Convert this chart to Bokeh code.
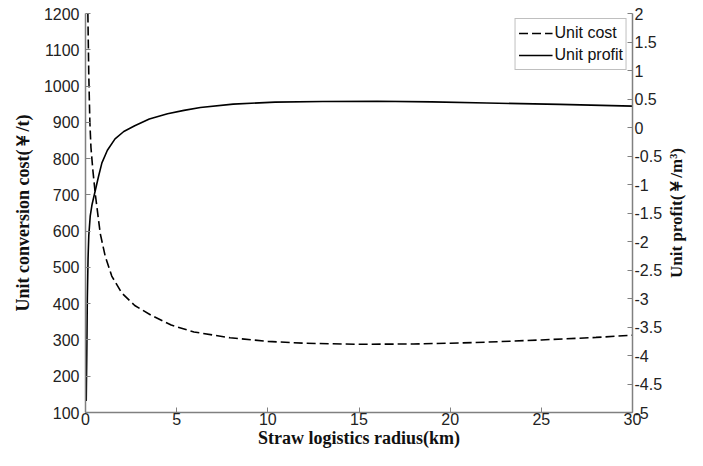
import math
from bokeh.plotting import figure
from bokeh.models import Range1d, LinearAxis, FixedTicker, Legend, LegendItem, Label
from bokeh.embed import file_html
from bokeh.resources import INLINE

# ---- data ----
x_cost = [0.13, 0.18, 0.24, 0.3, 0.4, 0.54, 0.81, 1.08, 1.44, 1.98, 2.7, 3.6, 4.7, 5.95, 7.93,
          10, 12, 15, 18, 20, 22, 25, 28, 30]
unit_cost = [1200, 1030, 900, 830, 770, 701, 593, 531, 476, 430, 395, 368, 341, 322, 306,
             296, 291, 288, 289, 291, 294, 300, 307, 313]

x_profit = [0.04, 0.07, 0.1, 0.14, 0.18, 0.26, 0.36, 0.54, 0.72, 0.9, 1.2, 1.62, 2.1, 2.7, 3.5,
            4.5, 5.4, 6.3, 8.1, 10.4, 13, 16, 19, 22, 26, 30]
unit_profit = [-4.8, -4.0, -3.0, -2.3, -1.9, -1.55, -1.35, -1.1, -0.85, -0.62, -0.40, -0.20, -0.07,
               0.03, 0.15, 0.24, 0.30, 0.35, 0.41, 0.445, 0.455, 0.46, 0.45, 0.43, 0.405, 0.375]

x_ticks = [0, 5, 10, 15, 20, 25, 30]
left_ticks = [100, 200, 300, 400, 500, 600, 700, 800, 900, 1000, 1100, 1200]
right_ticks = [-5, -4.5, -4, -3.5, -3, -2.5, -2, -1.5, -1, -0.5, 0, 0.5, 1, 1.5, 2]
right_tick_labels = ["-5", "-4.5", "-4", "-3.5", "-3", "-2.5", "-2", "-1.5", "-1", "-0.5",
                     "0", "0.5", "1", "1.5", "2"]

x_label = "Straw logistics radius(km)"
left_label = "Unit conversion cost(\uffe5/t)"
right_label = "Unit profit(\uffe5/m\u00b3)"

TICK_FONT = "Liberation Sans"
LABEL_FONT = "Liberation Serif"
AX_COLOR = "#808080"

W, H = 687, 450
BL, BR, BT, BB = 85, 55, 13, 30

p = figure(width=W, height=H, output_backend="svg", toolbar_location=None,
           x_range=Range1d(0, 30), y_range=Range1d(100, 1200),
           min_border_left=BL, min_border_right=BR, min_border_top=BT, min_border_bottom=BB)
p.outline_line_color = None
p.xgrid.visible = False
p.ygrid.visible = False
p.background_fill_color = "white"
p.border_fill_color = "white"

p.extra_y_ranges = {"profit": Range1d(-5, 2)}

def style(ax):
    ax.axis_line_color = AX_COLOR
    ax.axis_line_width = 1.5
    ax.major_tick_line_color = AX_COLOR
    ax.major_tick_in = 5
    ax.major_tick_out = 0
    ax.minor_tick_line_color = None
    ax.major_label_text_font = TICK_FONT
    ax.major_label_text_font_size = "16px"
    ax.major_label_text_color = "#222222"
    ax.axis_label_text_font = LABEL_FONT
    ax.axis_label_text_font_style = "bold"
    ax.axis_label_text_font_size = "18px"
    ax.axis_label_text_color = "#111111"

xa = p.xaxis[0]
xa.ticker = FixedTicker(ticks=x_ticks)
xa.axis_label = x_label
style(xa)
xa.major_label_standoff = 0
xa.axis_label_standoff = 0

ya = p.yaxis[0]
ya.ticker = FixedTicker(ticks=left_ticks)
ya.axis_label = left_label
style(ya)
ya.major_label_standoff = 6
ya.axis_label_standoff = 8

ra = LinearAxis(y_range_name="profit", ticker=FixedTicker(ticks=right_ticks),
                major_label_overrides={t: s for t, s in zip(right_ticks, right_tick_labels)})
style(ra)
ra.major_label_standoff = 2
p.add_layout(ra, "right")

# right-hand axis title, reading bottom-to-top like the original (outer right panel)
p.add_layout(Label(x=11, y=(H - BT - 38) / 2, x_units="screen", y_units="screen",
                   text=right_label, angle=math.pi / 2, text_align="center",
                   text_baseline="middle", text_font=LABEL_FONT, text_font_style="bold",
                   text_font_size="17px", text_color="#111111"), "right")

r_cost = p.line(x_cost, unit_cost, line_color="black", line_width=1.6, line_dash="9 4")
r_profit = p.line(x_profit, unit_profit, line_color="black", line_width=1.6, y_range_name="profit")

legend = Legend(items=[LegendItem(label="Unit cost", renderers=[r_cost]),
                       LegendItem(label="Unit profit", renderers=[r_profit])],
                location="top_right")
legend.margin = 5
legend.padding = 3
legend.spacing = 0
legend.glyph_width = 34
legend.glyph_height = 22
legend.label_standoff = 2
legend.label_height = 22
legend.label_text_font = TICK_FONT
legend.label_text_font_size = "16px"
legend.label_text_color = "#111111"
legend.border_line_color = AX_COLOR
legend.border_line_width = 1
legend.background_fill_color = "white"
legend.background_fill_alpha = 1
p.add_layout(legend, "center")

open("out.html", "w").write(file_html(p, INLINE))
